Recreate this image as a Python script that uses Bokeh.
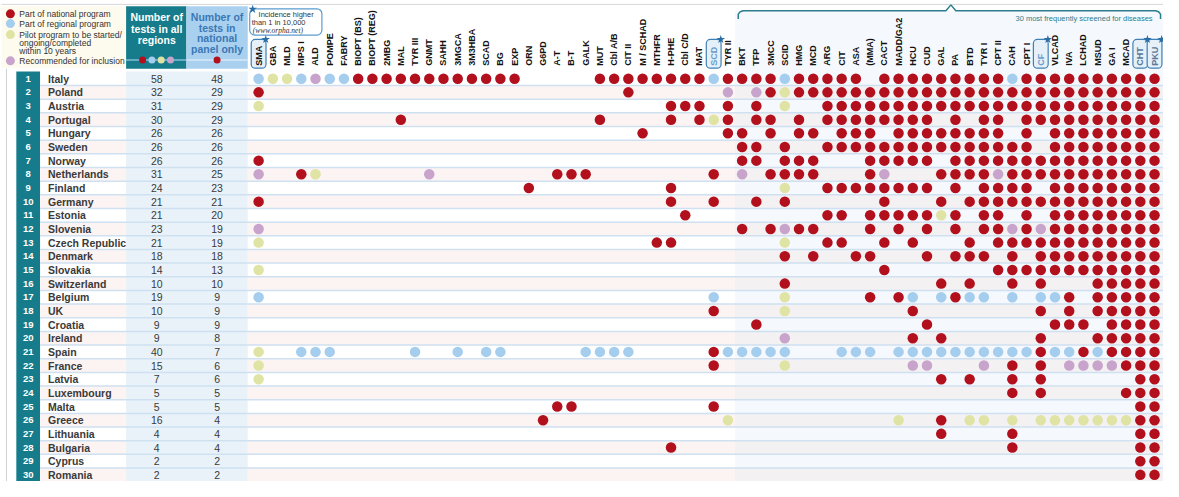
import math
from bokeh.plotting import figure
from bokeh.models import Range1d, ColumnDataSource
from bokeh.core.properties import value
from bokeh.embed import file_html
from bokeh.resources import INLINE

# ---------------- data ----------------
diseases = ["SMA", "GBA", "MLD", "MPS I", "ALD", "POMPE", "FABRY", "BIOPT (BS)", "BIOPT (REG)",
            "2MBG", "MAL", "TYR III", "GNMT", "SAHH", "3MGCA", "3M3HBA", "SCAD", "BG", "EXP",
            "ORN", "G6PD", "A-T", "B-T", "GALK", "MUT", "Cbl A/B", "CIT II", "M / SCHAD", "MTHFR",
            "H-PHE", "Cbl C/D", "MAT", "SCD", "TYR II", "BKT", "TFP", "3MCC", "SCID", "HMG", "MCD",
            "ARG", "CIT", "ASA", "(MMA)", "CACT", "MADD/GA2", "HCU", "CUD", "GAL", "PA", "BTD",
            "TYR I", "CPT II", "CAH", "CPT I", "CF", "VLCAD", "IVA", "LCHAD", "MSUD", "GA I",
            "MCAD", "CHT", "PKU"]
starred = ["SMA", "SCD", "CF", "CHT", "PKU"]
top30_first = "BKT"
top30_label = "30 most frequently screened for diseases"

countries = ["Italy", "Poland", "Austria", "Portugal", "Hungary", "Sweden", "Norway",
             "Netherlands", "Finland", "Germany", "Estonia", "Slovenia", "Czech Republic",
             "Denmark", "Slovakia", "Switzerland", "Belgium", "UK", "Croatia", "Ireland", "Spain",
             "France", "Latvia", "Luxembourg", "Malta", "Greece", "Lithuania", "Bulgaria",
             "Cyprus", "Romania"]
tests_all = [58, 32, 31, 30, 26, 26, 26, 31, 24, 21, 21, 23, 21, 18, 14, 10, 19, 10, 9, 9,
             40, 15, 7, 5, 5, 16, 4, 4, 2, 2]
tests_national = [48, 29, 29, 29, 26, 26, 26, 25, 23, 21, 20, 19, 19, 18, 13, 10, 9, 9, 9, 8,
                  7, 6, 6, 5, 5, 4, 4, 4, 2, 2]

# disease column numbers (1-based) per country
national = ["8-19,25-32,34-37,39-43,45-53,55-64", "1,27,37,39-64", "30-32,34,36,41-64",
            "11,25,30,32,34,36,37,39,41-48,50,52,53,55-64", "28,34,35,37,39,40,42-44,46-53,55,57-64",
            "35,36,38,41-55,57-64", "1,35,36,38-40,44-48,50-64", "4,22-24,33,37-40,44,49-52,54-64",
            "20,30,41-48,50,52-55,57-64", "1,30,33,36,38,45,49,51-64",
            "31,41,42,44-48,50,52,53,55,57-64", "35,37,39,40,44,46,48,50,52,53,55,57-64",
            "29,30,41,42,45,47,51,53-64", "38,40,43,44,48,50-52,54,56-64", "45,53-64",
            "38,49,51,54,56,60-64", "44,46,50,58,60-64", "33,47,56,58,60-64", "36,48,57-59,61-64",
            "47,49,56,60-64", "33,56,59,61-64", "33,54,56,62-64", "49,51,54,56,63,64",
            "54,56,62-64", "22,23,33,63,64", "21,49,63,64", "49,54,63,64", "30,54,63,64",
            "63,64", "63,64"]
regional = ["1,4,6,7,33,38,54", "", "", "", "", "", "", "", "", "", "", "", "", "", "", "",
            "1,33,47,49,51,52,54,56,57", "", "", "",
            "4-6,12,15,17,18,24-27,34-38,42-44,46-55,57,58,60", "", "", "", "", "", "", "", "", ""]
pilot = ["2,3", "38", "1,38", "33", "", "", "", "5", "38", "", "49", "", "1,38", "", "1", "",
         "38", "38", "", "", "1", "1,38", "1", "", "", "34,46,51,52,54,56-62", "", "", "", ""]
recommended = ["5", "34,36", "", "", "", "", "", "1,13,35,45,53", "", "", "", "1,38,54,56", "",
               "", "", "", "", "", "", "38", "", "47,48,52,58-61", "", "", "", "", "", "", "", ""]

status_labels = ["Part of national program", "Part of regional program",
                 "Pilot program to be started/", "Recommended for inclusion"]
status_colors = ["#b2101d", "#a4cdee", "#dfe3a4", "#c8a4cc"]

# ---------------- layout helpers ----------------
X0, DX = 263.0, 14.38     # pixel position of first disease column and column pitch
Y0, DY = 83.3, 14.03      # pixel position of first country row and row pitch


def ux(v):
    return (v - X0) / DX + 1


def uy(v):
    return (v - Y0) / DY + 1


def expand(s):
    out = []
    for part in s.split(","):
        part = part.strip()
        if not part:
            continue
        if "-" in part:
            a, b = part.split("-")
            out.extend(range(int(a), int(b) + 1))
        else:
            out.append(int(part))
    return out


FONT = value("Liberation Sans")
SERIF = value("Liberation Serif")
TEAL = "#167c8b"

p = figure(width=1163, height=481, x_range=Range1d(ux(2), ux(1178)),
           y_range=Range1d(uy(497), uy(3)), output_backend="svg", toolbar_location=None,
           min_border=0)
p.axis.visible = False
p.grid.visible = False
p.outline_line_color = None
p.background_fill_color = "white"
p.border_fill_color = "white"

n = len(countries)
rows = list(range(1, n + 1))
ncol = len(diseases)
cols = list(range(1, ncol + 1))
hl = diseases.index(top30_first) + 1 - 0.5

# top rule and left rule
p.segment(x0=[ux(3)], y0=[uy(7)], x1=[ux(1179)], y1=[uy(7)], line_color="#d6d6d6", line_width=1)
p.segment(x0=[ux(8)], y0=[uy(73)], x1=[ux(8)], y1=[uy(497)], line_color="#d0d0d0", line_width=1)

# legend box & headers
p.quad(left=[ux(3)], right=[ux(128)], top=[uy(9)], bottom=[uy(72)], fill_color="#fdfaee",
       line_color=None)
p.quad(left=[ux(129)], right=[ux(190)], top=[uy(9)], bottom=[uy(73)], fill_color=TEAL,
       line_color=None)
p.quad(left=[ux(190)], right=[ux(252)], top=[uy(9)], bottom=[uy(73)], fill_color="#a9d0ef",
       line_color=None)
p.segment(x0=[ux(129)], y0=[uy(64)], x1=[ux(190)], y1=[uy(64)], line_color="#86bcd9",
          line_width=1.5)
p.segment(x0=[ux(190)], y0=[uy(64)], x1=[ux(252)], y1=[uy(64)], line_color="#d4e8f7",
          line_width=1.5)

# highlighted (top 30) area
p.quad(left=[hl], right=[ux(1179)], top=[uy(14)], bottom=[uy(497)], fill_color="#f5f9fd",
       line_color=None)

# number columns background and row-number column
p.quad(left=[ux(129)], right=[ux(252)], top=[uy(76)], bottom=[uy(497)], fill_color="#e9f2f8",
       line_color=None)
p.quad(left=[ux(18)], right=[ux(42)], top=[uy(76)], bottom=[uy(497)], fill_color=TEAL,
       line_color=None)

# stripes for even rows
even = [r for r in rows if r % 2 == 0]
p.quad(left=[ux(42)] * len(even), right=[ux(129)] * len(even), top=[r - 0.5 for r in even],
       bottom=[r + 0.5 for r in even], fill_color="#fcf3f3", line_color=None)
p.quad(left=[ux(252)] * len(even), right=[hl] * len(even), top=[r - 0.5 for r in even],
       bottom=[r + 0.5 for r in even], fill_color="#fcf3f3", line_color=None)
p.quad(left=[hl] * len(even), right=[ux(1179)] * len(even), top=[r - 0.5 for r in even],
       bottom=[r + 0.5 for r in even], fill_color="#f4f1f2", line_color=None)

# row separators
seps = [r + 0.5 for r in rows]
p.segment(x0=[ux(42)] * len(seps), y0=seps, x1=[ux(1179)] * len(seps), y1=seps,
          line_color="#cfe1f1", line_width=1.5)

# brace above top-30 columns
bx = [748, 748, 750, 753, 958, 963, 968, 1170, 1173, 1175, 1175]
by = [22, 17, 14.6, 13.5, 13.5, 7.5, 13.5, 13.5, 14.6, 17, 22]
p.line(x=[ux(v) for v in bx], y=[uy(v) for v in by], line_color="#2b7d8d", line_width=1.5)
p.text(x=[ux(1167)], y=[uy(21)], text=[top30_label], text_align="right", text_baseline="middle",
       text_font=FONT, text_font_size="7.5px", text_color="#2b7d8d")

# callout box
p.quad(left=[ux(254)], right=[ux(327)], top=[uy(11.5)], bottom=[uy(38.5)], fill_color="white",
       line_color="#5b9ccf", line_width=1.2, border_radius=5)
p.text(x=[ux(263), ux(256)], y=[uy(17), uy(25.5)], text=["Incidence higher", "than 1 in 10,000"],
       text_align="left", text_baseline="middle", text_font=FONT, text_font_size="7.5px",
       text_color="#333333")
p.text(x=[ux(257)], y=[uy(34)], text=["(www.orpha.net)"], text_align="left",
       text_baseline="middle", text_font=SERIF, text_font_style="italic", text_font_size="7.5px",
       text_color="#333333")

# boxed (high incidence) disease labels
sc = [diseases.index(d) + 1 for d in starred]
p.quad(left=[c - 0.52 for c in sc], right=[c + 0.52 for c in sc], top=[uy(43)] * len(sc),
       bottom=[uy(72.5)] * len(sc), fill_color="#e5f0f9", line_color="#3f80b4", line_width=1.2,
       border_radius=4)

# disease headers
hcolors = []
for d in diseases:
    if d in ("SCD", "CF"):
        hcolors.append("#6c9dcc")
    elif d in ("CHT", "PKU"):
        hcolors.append("#5a7897")
    else:
        hcolors.append("#111111")
p.text(x=cols, y=[uy(70)] * ncol, text=diseases, angle=math.pi / 2, text_align="left",
       text_baseline="middle", text_font=FONT, text_font_style="bold", text_font_size="9px",
       text_color=hcolors)

# stars
p.scatter(x=[ux(257)] + [c + 0.5 for c in sc], y=[uy(12)] + [uy(43)] * len(sc), marker="star",
          size=9, fill_color="#2b6ea5", line_color=None)

# legend
leg_y = [16.7, 26.7, 38, 65]
p.scatter(x=[ux(12)] * 4, y=[uy(v) for v in leg_y], size=9, fill_color=status_colors,
          line_color=None)
p.text(x=[ux(21)] * 4, y=[uy(v) for v in leg_y], text=status_labels, text_align="left",
       text_baseline="middle", text_font=FONT, text_font_size="8.5px", text_color="#333333")
p.text(x=[ux(21)] * 2, y=[uy(46.5), uy(55)], text=["ongoing/completed", "within 10 years"],
       text_align="left", text_baseline="middle", text_font=FONT, text_font_size="8.5px",
       text_color="#333333")

# column headers on the left
p.text(x=[ux(160)] * 3, y=[uy(20), uy(32), uy(43.5)],
       text=["Number of", "tests in all", "regions"], text_align="center",
       text_baseline="middle", text_font=FONT, text_font_style="bold", text_font_size="10.5px",
       text_color="white")
p.text(x=[ux(221)] * 4, y=[uy(20), uy(31), uy(42), uy(53)],
       text=["Number of", "tests in", "national", "panel only"], text_align="center",
       text_baseline="middle", text_font=FONT, text_font_style="bold", text_font_size="10.5px",
       text_color="#3a78b5")
p.scatter(x=[ux(145.7 + 9.4 * k) for k in range(4)], y=[uy(64)] * 4, size=7,
          fill_color=status_colors, line_color=None)
p.scatter(x=[ux(221)], y=[uy(64)], size=7, fill_color=status_colors[0], line_color=None)

# table texts
p.text(x=[ux(30)] * n, y=rows, text=[str(r) for r in rows], text_align="center",
       text_baseline="middle", text_font=FONT, text_font_style="bold", text_font_size="9.5px",
       text_color="white")
p.text(x=[ux(50)] * n, y=rows, text=countries, text_align="left", text_baseline="middle",
       text_font=FONT, text_font_style="bold", text_font_size="10.5px", text_color="#3a3a3a")
p.text(x=[ux(160)] * n, y=rows, text=[str(v) for v in tests_all], text_align="center",
       text_baseline="middle", text_font=FONT, text_font_size="10.5px", text_color="#3a3a3a")
p.text(x=[ux(221)] * n, y=rows, text=[str(v) for v in tests_national], text_align="center",
       text_baseline="middle", text_font=FONT, text_font_size="10.5px", text_color="#3a3a3a")

# dots
xs, ys, cs = [], [], []
for series, color in zip([national, regional, pilot, recommended], status_colors):
    for i, s in enumerate(series):
        for c in expand(s):
            xs.append(c)
            ys.append(i + 1)
            cs.append(color)
src = ColumnDataSource(dict(x=xs, y=ys, c=cs))
p.scatter(x="x", y="y", source=src, size=10.5, fill_color="c", line_color=None)

open("out.html", "w").write(file_html(p, INLINE))
